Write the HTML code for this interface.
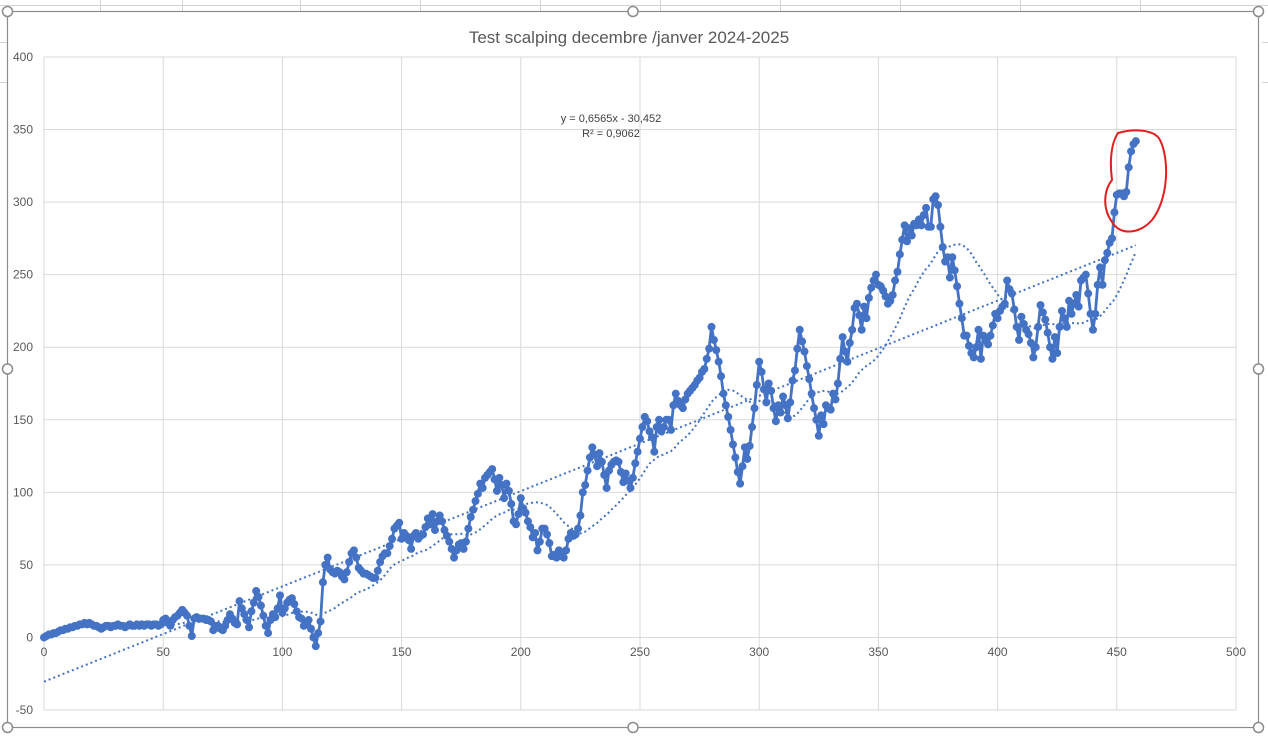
<!DOCTYPE html>
<html><head><meta charset="utf-8">
<style>
html,body{margin:0;padding:0;background:#fff;}
body{width:1268px;height:734px;overflow:hidden;position:relative;font-family:"Liberation Sans",sans-serif;}
</style></head>
<body>
<svg id="chart" width="1268" height="734" xmlns="http://www.w3.org/2000/svg" font-family="Liberation Sans, sans-serif">
  <g stroke="#d4d4d4" stroke-width="1">
    <line x1="0" y1="5.5" x2="1268" y2="5.5"/>
    <line x1="100.5" y1="0" x2="100.5" y2="11"/><line x1="182.5" y1="0" x2="182.5" y2="11"/>
    <line x1="300.5" y1="0" x2="300.5" y2="11"/><line x1="420.5" y1="0" x2="420.5" y2="11"/>
    <line x1="540.5" y1="0" x2="540.5" y2="11"/><line x1="660.5" y1="0" x2="660.5" y2="11"/>
    <line x1="780.5" y1="0" x2="780.5" y2="11"/><line x1="900.5" y1="0" x2="900.5" y2="11"/>
    <line x1="1020.5" y1="0" x2="1020.5" y2="11"/><line x1="1140.5" y1="0" x2="1140.5" y2="11"/>
    <line x1="1262" y1="42.5" x2="1268" y2="42.5"/><line x1="1262" y1="82.5" x2="1268" y2="82.5"/>
    <line x1="0" y1="42.5" x2="7" y2="42.5"/><line x1="0" y1="82.5" x2="7" y2="82.5"/>
  </g>
  <rect x="7.5" y="11.5" width="1251" height="716" fill="#fff" stroke="#8c8c8c" stroke-width="1.2"/>
  <g id="grid"></g>
  <g id="axes" font-size="12" fill="#595959"></g>
  <text x="629" y="43" text-anchor="middle" font-size="17" fill="#595959">Test scalping decembre /janver 2024-2025</text>
  <g id="trend"></g>
  <g id="series"></g>
  <text x="611" y="122" text-anchor="middle" font-size="11" fill="#404040">y = 0,6565x - 30,452</text>
  <text x="611" y="137" text-anchor="middle" font-size="11" fill="#404040">R² = 0,9062</text>
  <path d="M1118,133 C1135,128 1155,130 1160,140 C1170,160 1168,200 1152,220 C1140,234 1120,236 1112,222 C1102,208 1104,190 1112,180 C1110,165 1110,145 1118,133 Z" fill="none" stroke="#e02020" stroke-width="2"/>
  <g id="handles" fill="#fff" stroke="#8c8c8c" stroke-width="1.5"></g>
</svg>
<script>
const xTicks = [0,50,100,150,200,250,300,350,400,450,500];
const yTicks = [-50,0,50,100,150,200,250,300,350,400];
const slope = 0.6565;
const intercept = -30.452;
const maPeriod = 30;
const values = [
0,1,2,2,3,3,4,5,5,6, 6,7,7,8,8,9,9,10,9,10,
9,8,8,7,6,7,8,8,7,8, 8,9,8,8,7,8,9,8,8,9,
8,9,8,9,9,8,9,9,8,9, 12,13,10,8,12,14,15,17,19,17,
15,8,1,13,14,13,13,13,12,12, 11,5,8,8,6,5,8,12,16,13,
10,9,25,20,16,12,7,18,24,32, 28,22,15,8,3,12,16,14,20,29,
17,20,24,26,27,23,18,14,13,8, 10,12,6,0,-6,3,11,38,50,55,
47,45,44,46,45,42,40,45,52,58, 60,55,48,46,44,44,43,42,41,41,
46,52,56,58,58,63,68,75,77,79, 68,72,70,67,61,70,72,68,70,71,
76,82,78,85,74,80,84,80,74,70, 66,61,55,60,64,65,61,66,75,83,
88,94,99,106,103,110,112,114,116,109, 101,110,105,96,106,101,92,80,78,85,
96,89,86,80,76,69,72,60,66,75, 75,71,65,56,57,55,60,56,55,60,
68,72,70,71,75,84,100,105,115,124, 131,126,118,127,121,112,103,115,119,121,
122,121,114,107,113,108,103,110,120,128, 137,145,152,149,142,138,128,145,150,142,
145,150,150,143,160,168,163,160,158,164, 168,170,172,174,177,179,183,185,192,199,
214,205,198,190,180,168,160,152,143,133, 124,114,106,118,131,123,132,145,158,174,
190,183,171,162,175,170,158,149,160,155, 166,160,151,162,177,184,199,212,204,197,
187,178,168,158,150,139,153,147,160,158, 157,168,164,175,192,207,197,190,203,212,
227,230,222,212,228,220,234,241,246,250, 243,242,239,235,230,232,236,246,252,264,
274,284,273,282,277,285,284,288,284,291, 296,283,283,302,304,298,283,269,259,262,
248,262,253,242,230,220,208,208,201,196, 193,200,212,192,208,205,202,208,215,223,
220,225,228,230,246,240,237,226,214,205, 221,216,212,209,203,193,200,214,229,224,
219,210,200,192,207,196,214,225,220,214, 232,223,230,236,228,246,248,250,237,223,
212,223,243,255,243,260,265,272,275,293, 305,306,306,304,307,324,335,340,342
];

const NS='http://www.w3.org/2000/svg';
const X0=44, X1=1236, Y0=710, Y1=57;
const xMin=0,xMax=500,yMin=-50,yMax=400;
function sx(v){return X0+(v-xMin)/(xMax-xMin)*(X1-X0);}
function sy(v){return Y0-(v-yMin)/(yMax-yMin)*(Y0-Y1);}
function mk(tag,attrs,parent){const e=document.createElementNS(NS,tag);for(const k in attrs)e.setAttribute(k,attrs[k]);parent.appendChild(e);return e;}

const grid=document.getElementById('grid');
const axes=document.getElementById('axes');
yTicks.forEach(t=>{
  const l=mk('line',{x1:X0,x2:X1,y1:sy(t),y2:sy(t),stroke:'#d9d9d9','stroke-width':1},grid);
  
  
  const tx=mk('text',{x:33,y:sy(t)+4,'text-anchor':'end'},axes);
  tx.textContent=t;
  
  
});
xTicks.forEach(t=>{
  const l=mk('line',{x1:sx(t),x2:sx(t),y1:Y1,y2:Y0,stroke:'#d9d9d9','stroke-width':1},grid);
  
  
  const tx=mk('text',{x:sx(t),y:656,'text-anchor':'middle'},axes);
  tx.textContent=t;
  
  
});

const trend=document.getElementById('trend');
const n=values.length;
const lin=mk('line',{x1:sx(0),y1:sy(intercept),x2:sx(n-1),y2:sy(slope*(n-1)+intercept),stroke:'#4472C4','stroke-width':2,'stroke-dasharray':'2 3'},trend);


let ma=[];
for(let i=maPeriod-1;i<n;i++){let s=0;for(let j=i-maPeriod+1;j<=i;j++)s+=values[j];ma.push(sx(i).toFixed(1)+','+sy(s/maPeriod).toFixed(1));}
const mal=mk('polyline',{points:ma.join(' '),fill:'none',stroke:'#4472C4','stroke-width':2,'stroke-dasharray':'2 3'},trend);



const series=document.getElementById('series');
const pts=values.map((v,i)=>sx(i).toFixed(1)+','+sy(v).toFixed(1)).join(' ');
const line=mk('polyline',{points:pts,fill:'none',stroke:'#4472C4','stroke-width':2.8,'stroke-linejoin':'round'},series);


values.forEach((v,i)=>{
  const c=mk('circle',{cx:sx(i),cy:sy(v),r:4,fill:'#4472C4'},series);
  
  
});

const handles=document.getElementById('handles');
[[7.5,11.5],[633,11.5],[1258.5,11.5],[7.5,369],[1258.5,369],[7.5,727.5],[633,727.5],[1258.5,727.5]].forEach(p=>{
  const h=mk('circle',{cx:p[0],cy:p[1],r:5},handles);
  
  
});
</script>
</body></html>
